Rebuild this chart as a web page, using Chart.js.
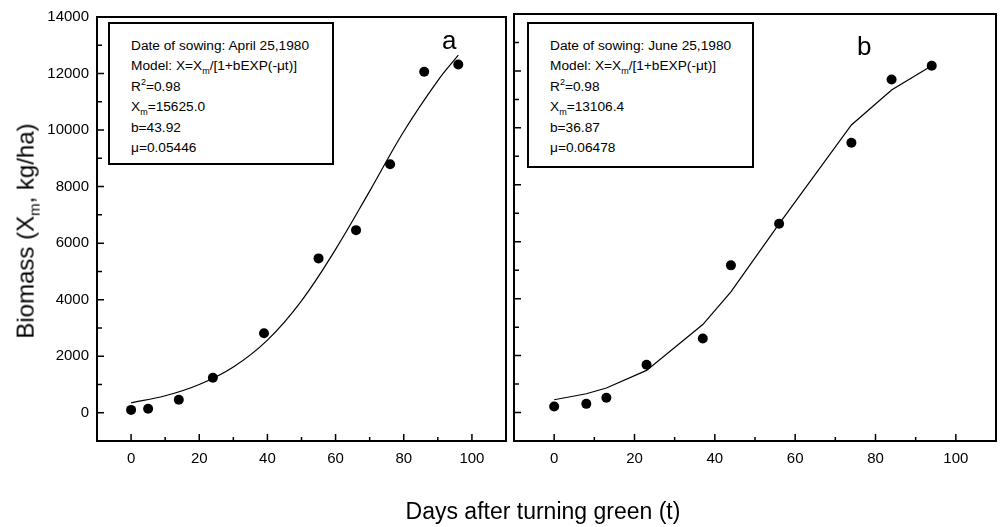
<!DOCTYPE html>
<html>
<head>
<meta charset="utf-8">
<script src="https://cdn.jsdelivr.net/npm/chart.js@4.4.1/dist/chart.umd.min.js"></script>
<style>
body { margin: 0; background: #fff; font-family: "Liberation Sans", Arial, sans-serif; color: #000; }
#wrap { position: relative; width: 1005px; height: 527px; overflow: hidden; }
canvas { position: absolute; top: 0; }
#chartA { left: 0; }
#chartB { left: 505px; }
.box { position: absolute; border: 2px solid #000; box-sizing: border-box; padding: 12px 0 0 21px;
       font-size: 13.7px; line-height: 20.4px; background: #fff; white-space: nowrap; }
.box sub, .box sup { font-size: 9px; line-height: 0; }
.tag { position: absolute; font-size: 26px; line-height: 1; }
#ytitle { position: absolute; left: 27px; top: 231px; font-size: 24px; white-space: nowrap;
          transform: translate(-50%, -50%) rotate(-90deg); }
#ytitle sub { font-size: 15px; }
#xtitle { position: absolute; left: 543px; top: 511px; font-size: 23px; white-space: nowrap;
          transform: translate(-50%, -50%); }
</style>
</head>
<body>
<div id="wrap">
  <canvas id="chartA" width="515" height="527"></canvas>
  <canvas id="chartB" width="500" height="527"></canvas>

  <div class="box" style="left:108px;top:22px;width:226px;height:143px;">
    Date of sowing: April 25,1980<br>
    Model: X=X<sub>m</sub>/[1+bEXP(-&mu;t)]<br>
    R<sup>2</sup>=0.98<br>
    X<sub>m</sub>=15625.0<br>
    b=43.92<br>
    &mu;=0.05446
  </div>
  <div class="box" style="left:527px;top:22px;width:227px;height:146px;">
    Date of sowing: June 25,1980<br>
    Model: X=X<sub>m</sub>/[1+bEXP(-&mu;t)]<br>
    R<sup>2</sup>=0.98<br>
    X<sub>m</sub>=13106.4<br>
    b=36.87<br>
    &mu;=0.06478
  </div>
  <div class="tag" style="left:442px;top:27px;">a</div>
  <div class="tag" style="left:857px;top:33px;">b</div>
  <div id="ytitle">Biomass (X<sub>m</sub>, kg/ha)</div>
  <div id="xtitle">Days after turning green (t)</div>
</div>

<script>
// panel a: sown April 25
const daysA = [0, 5, 14, 24, 39, 55, 66, 76, 86, 96];
const biomassA = [100, 140, 460, 1240, 2810, 5460, 6460, 8790, 12060, 12320];
const fitDaysA = [0, 10, 20, 30, 40, 50, 60, 70, 80, 90, 96];
const fitA = [350, 600, 1000, 1620, 2570, 3960, 5780, 7840, 9950, 11750, 12650];

// panel b: sown June 25
const daysB = [0, 8, 13, 23, 37, 44, 56, 74, 84, 94];
const biomassB = [210, 305, 520, 1680, 2600, 5170, 6630, 9475, 11700, 12180];
const fitB = [450, 660, 860, 1480, 3090, 4240, 6630, 10100, 11330, 12180];

const xTickLabels = [0, 20, 40, 60, 80, 100];
const yTickLabels = [0, 2000, 4000, 6000, 8000, 10000, 12000, 14000];

const FONT = '"Liberation Sans", Arial, sans-serif';

function toXY(xs, ys) {
    return xs.map((x, i) => ({ x: x, y: ys[i] }));
}

// frame round the plot area plus inward tick marks
const framePlugin = {
    id: 'frame',
    afterDraw(chart) {
        const { ctx, chartArea: a, scales } = chart;
        const xs = scales.x, ys = scales.y;
        ctx.save();
        ctx.strokeStyle = '#000';
        ctx.lineWidth = 1.5;
        ctx.beginPath();
        ys.ticks.forEach(t => {
            if (t.value <= ys.min || t.value >= ys.max) return;
            const py = ys.getPixelForValue(t.value);
            const len = t.value % 2000 === 0 ? 7 : 5;
            ctx.moveTo(a.left, py);
            ctx.lineTo(a.left + len, py);
        });
        xs.ticks.forEach(t => {
            if (t.value <= xs.min || t.value >= xs.max) return;
            const px = xs.getPixelForValue(t.value);
            const len = t.value % 20 === 0 ? 7 : 4;
            ctx.moveTo(px, a.bottom);
            ctx.lineTo(px, a.bottom - len);
        });
        ctx.stroke();
        ctx.lineWidth = 2;
        ctx.strokeRect(a.left, a.top, a.right - a.left, a.bottom - a.top);
        ctx.restore();
    }
};

function makeChart(id, pts, line, smooth, yWidth, showYLabels) {
    return new Chart(document.getElementById(id), {
        type: 'scatter',
        data: {
            datasets: [{
                data: line,
                showLine: true,
                borderColor: '#000',
                borderWidth: 1.2,
                pointRadius: 0,
                tension: smooth ? 0.4 : 0
            }, {
                data: pts,
                pointRadius: 5,
                pointBackgroundColor: '#000',
                pointBorderColor: '#000',
                pointBorderWidth: 0
            }]
        },
        options: {
            responsive: false,
            animation: false,
            layout: { padding: { top: 14, right: 4, left: 0, bottom: 0 } },
            plugins: {
                legend: { display: false },
                tooltip: { enabled: false }
            },
            scales: {
                x: {
                    type: 'linear',
                    min: -10,
                    max: 110,
                    grid: { display: false, drawTicks: false },
                    border: { display: false },
                    afterFit: s => { s.height = 86; },
                    ticks: {
                        stepSize: 10,
                        autoSkip: false,
                        maxRotation: 0,
                        padding: 9,
                        color: '#000',
                        font: { family: FONT, size: 15 },
                        callback: v => xTickLabels.includes(v) ? String(v) : ''
                    }
                },
                y: {
                    type: 'linear',
                    min: -1000,
                    max: 14000,
                    grid: { display: false, drawTicks: false },
                    border: { display: false },
                    afterFit: s => { s.width = yWidth; },
                    ticks: {
                        display: showYLabels,
                        stepSize: 1000,
                        autoSkip: false,
                        padding: 8,
                        color: '#000',
                        font: { family: FONT, size: 15 },
                        callback: v => yTickLabels.includes(v) ? String(v) : ''
                    }
                }
            }
        },
        plugins: [framePlugin]
    });
}

makeChart('chartA', toXY(daysA, biomassA), toXY(fitDaysA, fitA), true, 97, true);
makeChart('chartB', toXY(daysB, biomassB), toXY(daysB, fitB), false, 6, false);
</script>
</body>
</html>
